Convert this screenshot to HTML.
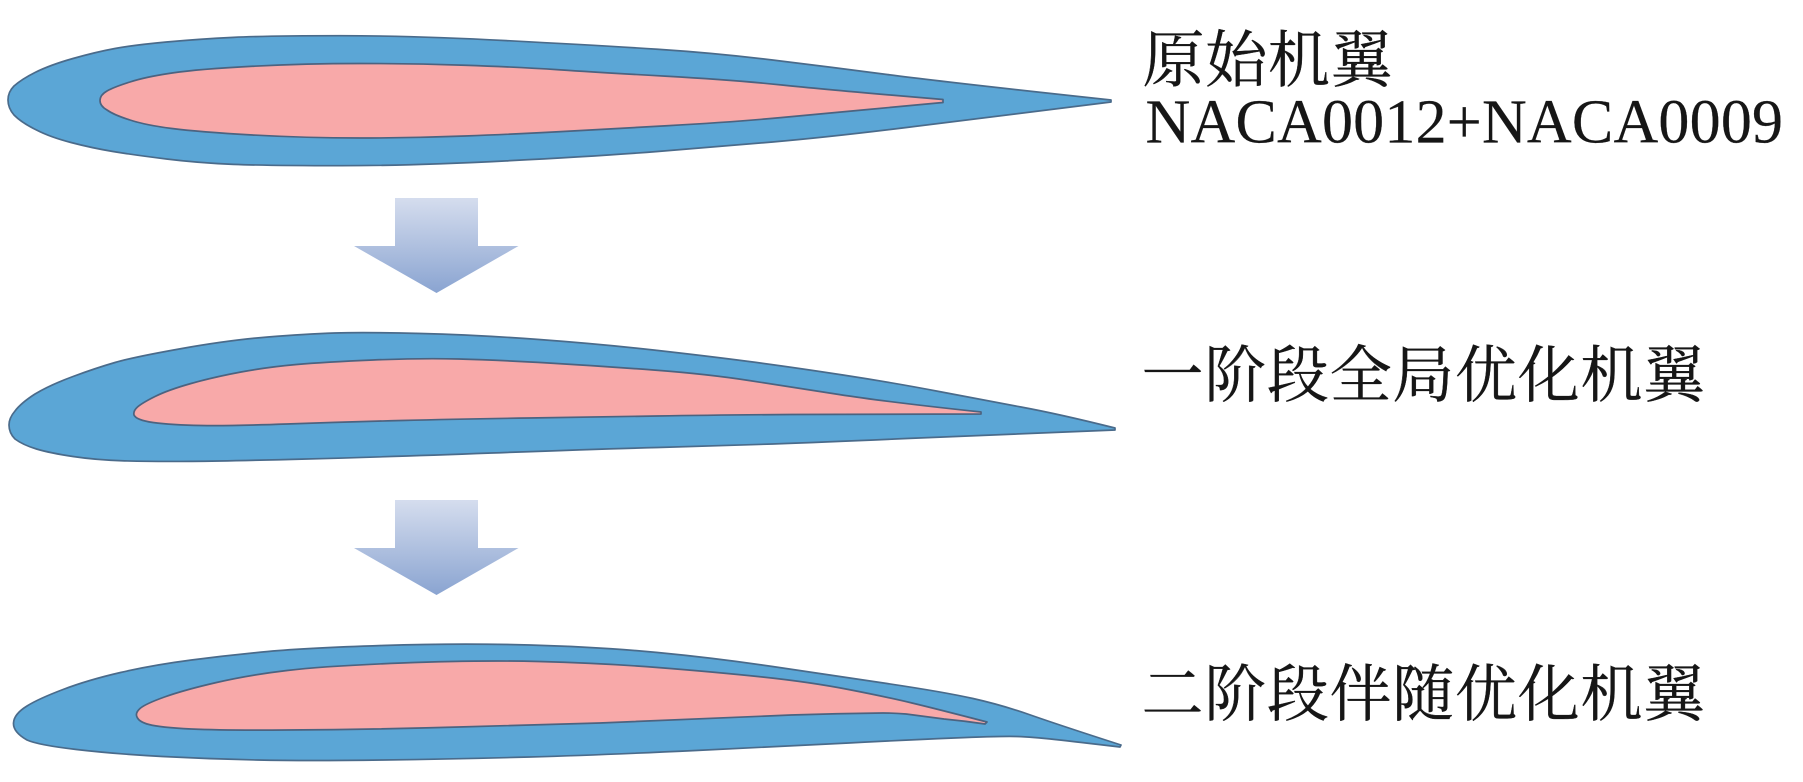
<!DOCTYPE html>
<html lang="zh">
<head>
<meta charset="utf-8">
<title>机翼优化</title>
<style>
html,body{margin:0;padding:0;background:#fff;}
svg{display:block;}
.cn{font-family:"Liberation Serif","Noto Serif CJK SC",serif;font-size:62px;fill:#161616;stroke:#161616;stroke-width:.35px;letter-spacing:.7px;}
.la{letter-spacing:.2px;stroke-width:.2px;}
.o{fill:#5ba6d6;stroke:#4a6b8b;stroke-width:1.7;stroke-linejoin:round;}
.i{fill:#f8a9a9;stroke:#4c6380;stroke-width:1.7;stroke-linejoin:round;}
</style>
</head>
<body>
<svg width="1803" height="782" viewBox="0 0 1803 782" xmlns="http://www.w3.org/2000/svg">
<defs>
<linearGradient id="g" x1="0" y1="0" x2="0" y2="1">
<stop offset="0" stop-color="#d5ddee"/>
<stop offset="1" stop-color="#8aa4d1"/>
</linearGradient>
</defs>
<rect width="1803" height="782" fill="#fff"/>

<path class="o" d="M1111,100 Q944,82 887,74.5 Q830,67 772.5,60 Q715,53 657.5,49.25 Q600,45.5 506.5,40.6 Q413,35.7 340.5,35.7 Q268,35.7 233.5,37.35 Q199,39 166.5,42 Q134,45 115,48.5 Q96,52 73,58.5 Q50,65 35,72.5 Q22,79 14,86 Q8,92 8,100 Q8,108 14,115 Q22,123 36.5,130 Q50,137 71,142.5 Q92,148 113,151.5 Q134,155 166.5,159 Q199,163 233.5,164.35 Q268,165.7 340.5,165.7 Q413,165.7 506.5,160.85 Q600,156 657.5,151.5 Q715,147 772.5,142 Q830,137 906.5,127.5 Q983,118 1111,102 Z"/>
<path class="i" d="M943,99.5 Q830,90 782,85 Q734,80 667,76.25 Q600,72.5 558.5,69.75 Q517,67 465,65.25 Q413,63.5 359.5,63.5 Q306,63.5 252.5,66.25 Q199,69 172,73 Q145,77 130,82 Q114,87 107,91 Q100,95 100,100.5 Q100,106 107,110 Q114,115 130,120 Q145,125 172,128.5 Q199,132 252.5,135 Q306,138 359.5,138 Q413,138 465,136 Q517,134 558.5,131.75 Q600,129.5 667,125.75 Q734,122 782,117.5 Q830,113 868,109.5 Q906,106 943,102.5 Z"/>

<polygon fill="url(#g)" points="395,198 478,198 478,246 518.5,246 436.5,293 354,246 395,246"/>

<path class="o" d="M1115,428 Q1059,414 1021,407 Q983,400 939,391.5 Q895,383 843,375 Q791,367 749,361.5 Q707,356 653.5,350 Q600,344 539,339.5 Q478,335 421,333.5 Q364,332 335,333 Q306,334 268,337 Q230,340 182,348.5 Q134,357 115,362.5 Q96,368 73,376.5 Q50,385 35,394 Q21,403 15,411 Q9,418 9,425 Q9,433 15,439 Q23,445 36.5,449 Q50,453 73,456.5 Q96,460 124.5,460.85 Q153,461.7 191.5,461.35 Q230,461 306.5,459 Q383,457 491.5,453 Q600,449 657.5,447.5 Q715,446 772.5,444 Q830,442 906.5,438.5 Q983,435 1115,430 Z"/>
<path class="i" d="M981,412 Q887,402 839,394.5 Q791,387 749,380.5 Q707,374 653.5,370 Q600,366 548.5,363 Q497,360 459,359 Q421,358 373,360 Q325,362 296.5,364.5 Q268,367 241,372 Q214,377 191,383.5 Q168,390 155,396.5 Q142,403 137.5,407 Q133,411 134,415 Q136,420 153,422.5 Q172,425 201,425.5 Q230,426 287,424 Q344,422 401.5,420.5 Q459,419 529.5,418 Q600,417 657.5,416 Q715,415 791.5,414.5 Q868,414 981,414 Z"/>

<polygon fill="url(#g)" points="395,500 478,500 478,548 518.5,548 436.5,595 354,548 395,548"/>

<path class="o" d="M1121,745 Q1059,725 1030.5,715 Q1002,705 973,698.5 Q944,692 887,683.5 Q830,675 772.5,666.5 Q715,658 657.5,652.5 Q600,647 529.5,645 Q459,643 382.5,645.5 Q306,648 268,651.5 Q230,655 191.5,660 Q153,665 120.5,672.5 Q88,680 63,689.5 Q38,699 27,706 Q14,714 13.5,723 Q13,732 27,740 Q38,745 76.5,749.5 Q115,754 162.5,756.5 Q210,759 258,760 Q306,761 382.5,760 Q459,759 529.5,757 Q600,755 695.5,750.5 Q791,746 848.5,743 Q906,740 954,738 Q1002,736 1017,736.5 Q1032,737 1055,739.5 Q1078,742 1120,747 Z"/>
<path class="i" d="M987,722 Q937,709 912,703 Q887,697 848.5,689.5 Q810,682 762.5,677 Q715,672 657.5,667.5 Q600,663 539,661.5 Q478,660 401.5,663 Q325,666 287,670.5 Q249,675 216.5,682.5 Q184,690 164.5,697 Q145,704 140,708.5 Q135,713 137,717 Q139,722 149,724.5 Q160,727.5 191,729 Q225,730.5 287,730 Q373,729.5 459,727 Q529.5,725 600,723 Q695.5,719 791,715 Q837,713.5 883,713 Q894.5,713 906,714 Q925,716.5 944,719 Q965,721 985,724 Z"/>

<text class="cn" x="1142.5" y="81.5">原始机翼</text>
<text class="cn la" x="1145.5" y="142.5">NACA0012+NACA0009</text>
<text class="cn" x="1141.5" y="396.5">一阶段全局优化机翼</text>
<text class="cn" x="1141.5" y="715.5">二阶段伴随优化机翼</text>
</svg>
</body>
</html>
